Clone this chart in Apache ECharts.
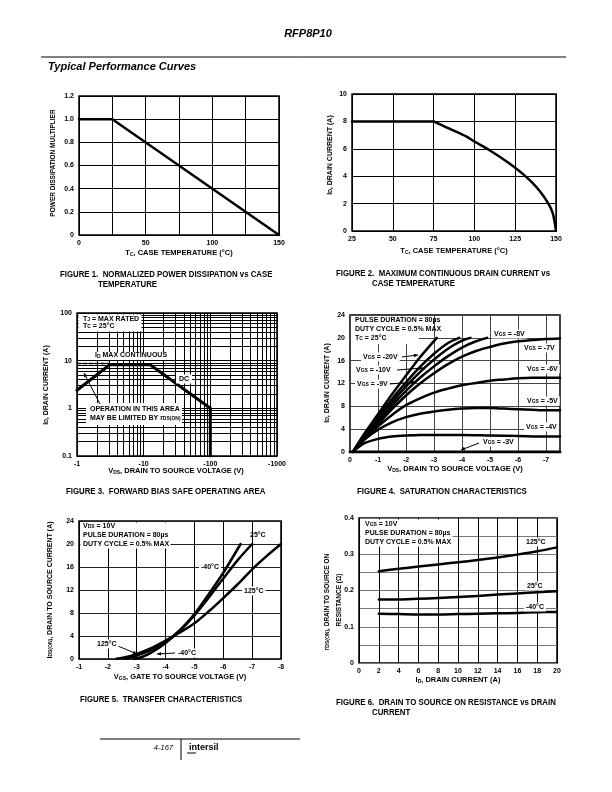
<!DOCTYPE html>
<html><head><meta charset="utf-8">
<script src="https://cdn.jsdelivr.net/npm/echarts@6/dist/echarts.min.js"></script>
<style>html,body{margin:0;padding:0;background:#fff}#c{width:612px;height:792px}</style>
</head><body><div id="c"></div>
<script>
// ---------------- DATA ----------------
// Figure 1: normalized power dissipation vs case temperature
const fig1Temp = [0, 25, 150];
const fig1Mult = [1.0, 1.0, 0.0];
// Figure 2: max continuous drain current vs case temperature
const fig2FlatTemp = [25, 75];
const fig2FlatId   = [8, 8];
const fig2Temp = [75, 80, 85, 95, 100, 110, 120, 125, 130, 135, 140, 145, 148, 150];
const fig2Id   = [8, 7.73, 7.45, 6.9, 6.53, 5.84, 5.06, 4.62, 4.13, 3.58, 2.92, 2.07, 1.3, 0];
// Figure 3: forward bias safe operating area (|VDS|, ID)
const fig3Vds = [1, 3.1, 12.5, 100, 100];
const fig3Id  = [2.4, 8.2, 8.2, 1.0, 0.1];
const fig3IdMaxVds = [1, 3.1];
const fig3IdMax    = [8.7, 8.7];
// Figure 4: saturation characteristics (|VDS| in V, ID in A)
const fig4V20 = [0.1, 0.5, 1, 1.5, 2, 2.5, 3.1];
const fig4I20 = [0, 3.1, 6.6, 10.1, 13.4, 16.6, 20];
const fig4V10 = [0.1, 0.5, 1, 1.5, 2, 2.5, 3, 3.5, 3.9];
const fig4I10 = [0, 2.9, 6.1, 9.3, 12.2, 14.9, 17.2, 19.1, 20];
const fig4V9  = [0.1, 0.5, 1, 1.5, 2, 2.5, 3, 3.5, 4, 4.3];
const fig4I9  = [0, 2.7, 5.7, 8.7, 11.5, 14, 16.2, 18.1, 19.5, 20];
const fig4V8  = [0.1, 0.5, 1, 1.5, 2, 2.5, 3, 3.5, 4, 4.5, 4.9];
const fig4I8  = [0, 2.5, 5.3, 8.1, 10.7, 13, 15, 16.8, 18.3, 19.4, 20];
const fig4VLong = [0.1, 0.5, 1, 1.5, 2, 2.5, 3, 3.5, 4, 4.5, 5, 5.5, 6, 6.5, 7, 7.5];
const fig4I7  = [0, 2.3, 4.9, 7.5, 9.9, 12, 13.8, 15.4, 16.7, 17.7, 18.4, 19, 19.4, 19.6, 19.8, 19.9];
const fig4I6  = [0, 2.3, 4.5, 6.5, 8.2, 9.4, 10.4, 11.1, 11.7, 12.1, 12.5, 12.7, 12.9, 13, 13, 13];
const fig4I5  = [0, 2.1, 3.9, 5.2, 6.1, 6.7, 7.1, 7.4, 7.6, 7.7, 7.7, 7.6, 7.5, 7.4, 7.3, 7.3];
const fig4V4  = [0.1, 0.5, 1, 1.5, 2, 2.5, 3, 4, 5, 6, 7, 7.5];
const fig4I4  = [0, 1.5, 2.3, 2.7, 2.9, 3, 3, 3, 2.9, 2.8, 2.7, 2.7];
const fig4V3  = [0, 7.5];
const fig4I3  = [0, 0];
// Figure 5: transfer characteristics (|VGS| in V, IDS(ON) in A)
const fig5V125 = [2.3, 2.6, 3, 3.5, 4, 4.5, 5, 5.5, 6, 6.5, 7, 7.5, 8];
const fig5I125 = [0.05, 0.3, 0.9, 1.9, 3.2, 4.6, 6.2, 8.3, 10.6, 13, 15.6, 17.9, 20];
const fig5V25  = [2.6, 3, 3.5, 4, 4.5, 5, 5.5, 6, 6.5, 7];
const fig5I25  = [0.05, 0.6, 1.6, 3.0, 5.0, 7.6, 10.7, 14, 17.2, 20];
const fig5Vm40 = [2.9, 3.2, 3.5, 4, 4.5, 5, 5.5, 6, 6.6];
const fig5Im40 = [0.05, 0.4, 1.1, 2.8, 5.0, 7.8, 11.3, 15.0, 20];
// Figure 6: rDS(ON) vs drain current
const fig6Id   = [2, 4, 6, 8, 10, 12, 14, 16, 18, 20];
const fig6R125 = [0.253, 0.26, 0.266, 0.272, 0.278, 0.284, 0.291, 0.299, 0.308, 0.319];
const fig6R25  = [0.175, 0.175, 0.177, 0.179, 0.182, 0.185, 0.189, 0.192, 0.195, 0.198];
const fig6Rm40 = [0.136, 0.135, 0.134, 0.134, 0.135, 0.136, 0.137, 0.138, 0.140, 0.141];
// log-grid multipliers for Figure 3
const logMinor = [2, 3, 4, 5, 6, 7, 8, 9];

// ---------------- CHART ----------------
const FF = '"Liberation Sans", Arial, sans-serif';
const chart = echarts.init(document.getElementById('c'), null, {renderer: 'canvas'});
const pair = (xs, ys) => xs.map((x, i) => [x, ys[i]]);
const RICH = {
  s: {fontSize: 5, fontWeight: 'bold', fontFamily: FF, verticalAlign: 'bottom', lineHeight: 5, fill: '#000'}
};
function T(x, y, text, o) {
  o = o || {};
  return {
    type: 'text', x: x, y: y, z: 100, rotation: o.rot || 0, scaleX: o.sx || 1,
    style: Object.assign({
      text: text, fontFamily: FF, fontSize: o.size || 7, fontWeight: o.weight || 'bold',
      fontStyle: o.italic ? 'italic' : 'normal', fill: '#000',
      align: o.align || 'left', verticalAlign: 'middle', rich: RICH
    }, o.style || {})
  };
}
function R(x, y, w, h) {
  return {type: 'rect', z: 90, shape: {x: x, y: y, width: w, height: h}, style: {fill: '#fff'}};
}
function L(x1, y1, x2, y2, w) {
  return {type: 'line', z: 95, shape: {x1: x1, y1: y1, x2: x2, y2: y2}, style: {stroke: '#000', lineWidth: w || 1}};
}
function ARROW(x1, y1, x2, y2) {
  const a = Math.atan2(y2 - y1, x2 - x1), s = 4, w = 1.8;
  const p1 = [x2 - s * Math.cos(a) + w * Math.sin(a), y2 - s * Math.sin(a) - w * Math.cos(a)];
  const p2 = [x2 - s * Math.cos(a) - w * Math.sin(a), y2 - s * Math.sin(a) + w * Math.cos(a)];
  return [L(x1, y1, x2, y2, 1),
    {type: 'polygon', z: 96, shape: {points: [[x2, y2], p1, p2]}, style: {fill: '#000'}}];
}

const grids = [
  {left: 79, top: 96, width: 200, height: 139},
  {left: 352, top: 94, width: 204, height: 137},
  {left: 77, top: 313, width: 200, height: 143},
  {left: 350, top: 315, width: 210, height: 137},
  {left: 79, top: 521, width: 202, height: 138},
  {left: 359, top: 518, width: 198, height: 145}
].map(g => Object.assign({show: true, borderColor: '#000', borderWidth: 1.5, backgroundColor: '#fff'}, g));

const lab = (extra) => Object.assign({fontSize: 7, fontWeight: 'bold', fontFamily: FF, color: '#000', margin: 5}, extra || {});
const split = (c, w) => ({show: true, lineStyle: {color: c || '#000', width: w || 1}});
const base = (extra) => Object.assign({axisLine: {show: false}, axisTick: {show: false}, splitLine: split()}, extra);

const xAxis = [
  base({gridIndex: 0, type: 'value', min: 0, max: 150, interval: 25,
    axisLabel: lab({formatter: v => (v % 50 === 0 ? String(v) : '')})}),
  base({gridIndex: 1, type: 'value', min: 25, max: 150, interval: 25, axisLabel: lab()}),
  base({gridIndex: 2, type: 'log', logBase: 10, min: 1, max: 1000,
    axisLabel: lab({formatter: v => '-' + v})}),
  base({gridIndex: 3, type: 'value', min: 0, max: 7.5, interval: 1, splitLine: split('#444'),
    axisLabel: lab({formatter: v => (v === 0 ? '0' : '-' + v), showMaxLabel: false})}),
  base({gridIndex: 4, type: 'value', min: 1, max: 8, interval: 1,
    axisLabel: lab({formatter: v => '-' + v})}),
  base({gridIndex: 5, type: 'value', min: 0, max: 20, interval: 2, axisLabel: lab()})
];
const yAxis = [
  base({gridIndex: 0, type: 'value', min: 0, max: 1.2, interval: 0.2,
    axisLabel: lab({formatter: v => (v === 0 ? '0' : v.toFixed(1))})}),
  base({gridIndex: 1, type: 'value', min: 0, max: 10, interval: 2, axisLabel: lab()}),
  base({gridIndex: 2, type: 'log', logBase: 10, min: 0.1, max: 100, axisLabel: lab()}),
  base({gridIndex: 3, type: 'value', min: 0, max: 24, interval: 4, splitLine: split('#444'), axisLabel: lab()}),
  base({gridIndex: 4, type: 'value', min: 0, max: 24, interval: 4, splitLine: split('#222'), axisLabel: lab()}),
  base({gridIndex: 5, type: 'value', min: 0, max: 0.4, interval: 0.05, splitLine: split('#777'),
    axisLabel: lab({formatter: v => {
      const k = Math.round(v * 100);
      return k % 10 === 0 ? (k === 0 ? '0' : (k / 100).toFixed(1)) : '';
    }})})
];

function line(i, xs, ys, w, smooth) {
  return {type: 'line', xAxisIndex: i, yAxisIndex: i, data: pair(xs, ys), showSymbol: false,
    symbol: 'none', smooth: smooth ? 0.3 : false, silent: true, z: 5,
    lineStyle: {color: '#000', width: w || 2.5, cap: 'round', join: 'round'}};
}

// minor log grid lines for Figure 3 (values through the axes)
const xMinor = [], yMinor = [];
[1, 10, 100].forEach(d => logMinor.forEach(m => xMinor.push({xAxis: d * m})));
[0.1, 1, 10].forEach(d => logMinor.forEach(m => yMinor.push({yAxis: +(d * m).toPrecision(2)})));

const series = [
  line(0, fig1Temp, fig1Mult, 2.5, false),
  line(1, fig2FlatTemp, fig2FlatId, 2.5, false),
  line(1, fig2Temp, fig2Id, 2.5, true),
  {type: 'line', xAxisIndex: 2, yAxisIndex: 2, data: [], silent: true, z: 1,
    markLine: {silent: true, symbol: 'none', animation: false, label: {show: false},
      lineStyle: {color: '#000', width: 1, type: 'solid'}, data: xMinor.concat(yMinor)}},
  line(2, fig3Vds, fig3Id, 3, false),
  Object.assign(line(2, fig3IdMaxVds, fig3IdMax, 1.5, false), {lineStyle: {color: '#000', width: 1.5, type: [4, 2]}}),
  line(3, fig4V20, fig4I20, 2.5, true),
  line(3, fig4V10, fig4I10, 2.5, true),
  line(3, fig4V9, fig4I9, 2.5, true),
  line(3, fig4V8, fig4I8, 2.5, true),
  line(3, fig4VLong, fig4I7, 2.5, true),
  line(3, fig4VLong, fig4I6, 2.5, true),
  line(3, fig4VLong, fig4I5, 2.5, true),
  line(3, fig4V4, fig4I4, 2.5, true),
  line(3, fig4V3, fig4I3, 3, false),
  line(4, fig5V125, fig5I125, 2.5, true),
  line(4, fig5V25, fig5I25, 2.5, true),
  line(4, fig5Vm40, fig5Im40, 2.5, true),
  line(5, fig6Id, fig6R125, 2.5, true),
  line(5, fig6Id, fig6R25, 2.5, true),
  line(5, fig6Id, fig6Rm40, 2.5, true)
];

const CAP = {size: 9, sx: 0.87};
const AX = {size: 7.5, align: 'center'};
let g = [];
// header & footer
g.push(T(308, 34, 'RFP8P10', {size: 11, italic: true, align: 'center'}));
g.push(L(41, 57, 566, 57, 1));
g.push(T(48, 67, 'Typical Performance Curves', {size: 11, italic: true}));
g.push(L(100, 739, 300, 739, 1));
g.push(L(181, 739, 181, 760, 1));
g.push(T(173, 748, '4-167', {size: 7.5, weight: 'normal', italic: true, align: 'right'}));
g.push(T(189, 748, 'intersil', {size: 9, weight: 'bold'}));
g.push(L(187, 753, 196, 753, 1));

// Figure 1
g.push(T(53, 163, 'POWER DISSIPATION MULTIPLIER', {size: 6.5, rot: Math.PI / 2, align: 'center'}));
g.push(T(179, 253, 'T{s|C}, CASE TEMPERATURE (°C)', AX));
g.push(T(60, 275, 'FIGURE 1.  NORMALIZED POWER DISSIPATION vs CASE', CAP));
g.push(T(98, 285, 'TEMPERATURE', CAP));
// Figure 2
g.push(T(330, 155, 'I{s|D}, DRAIN CURRENT (A)', {size: 7, rot: Math.PI / 2, align: 'center'}));
g.push(T(454, 251, 'T{s|C}, CASE TEMPERATURE (°C)', AX));
g.push(T(336, 274, 'FIGURE 2.  MAXIMUM CONTINUOUS DRAIN CURRENT vs', CAP));
g.push(T(372, 284, 'CASE TEMPERATURE', CAP));
// Figure 3
g.push(R(78.5, 314.5, 63, 17));
g.push(T(83, 319, 'T{s|J} = MAX RATED', {size: 7}));
g.push(T(83, 326, 'T{s|C} = 25°C', {size: 7}));
g.push(T(93, 356, 'I{s|D} MAX CONTINUOUS', {size: 7, style: {backgroundColor: '#fff', padding: [0, 2, 1, 2]}}));
g.push(T(176, 379, 'DC', {size: 7, style: {backgroundColor: '#fff', padding: [1, 3, 1, 3]}}));
g.push(R(86, 403, 96, 22));
g.push(T(90, 409, 'OPERATION IN THIS AREA', {size: 7}));
g.push(T(90, 418, 'MAY BE LIMITED BY r{s|DS(ON)}', {size: 7}));
g = g.concat(ARROW(100, 404, 84, 373));
g.push(T(46, 385, 'I{s|D}, DRAIN CURRENT (A)', {size: 7, rot: Math.PI / 2, align: 'center'}));
g.push(T(176, 471, 'V{s|DS}, DRAIN TO SOURCE VOLTAGE (V)', AX));
g.push(T(66, 492, 'FIGURE 3.  FORWARD BIAS SAFE OPERATING AREA', CAP));
// Figure 4
g.push(R(351, 316, 68, 28));
g.push(T(355, 320, 'PULSE DURATION = 80µs', {size: 7}));
g.push(T(355, 329, 'DUTY CYCLE = 0.5% MAX', {size: 7}));
g.push(T(355, 338, 'T{s|C} = 25°C', {size: 7}));
const boxed = {backgroundColor: '#fff', padding: [1, 2, 1, 2]};
g.push(T(492, 334, 'V{s|GS} = -8V', {size: 7, style: boxed}));
g.push(T(522, 348, 'V{s|GS} = -7V', {size: 7, style: boxed}));
g.push(T(525, 369, 'V{s|GS} = -6V', {size: 7, style: boxed}));
g.push(T(525, 401, 'V{s|GS} = -5V', {size: 7, style: boxed}));
g.push(T(524, 427, 'V{s|GS} = -4V', {size: 7, style: boxed}));
g.push(T(481, 442, 'V{s|GS} = -3V', {size: 7, style: boxed}));
g.push(T(361, 357, 'V{s|GS} = -20V', {size: 7, style: boxed}));
g.push(T(354, 370, 'V{s|GS} = -10V', {size: 7, style: boxed}));
g.push(T(355, 384, 'V{s|GS} = -9V', {size: 7, style: boxed}));
g = g.concat(ARROW(402, 357, 418, 355));
g = g.concat(ARROW(397, 370, 423, 368));
g = g.concat(ARROW(389, 384, 416, 382));
g = g.concat(ARROW(479, 443, 461, 450));
g.push(T(327, 383, 'I{s|D}, DRAIN CURRENT (A)', {size: 7, rot: Math.PI / 2, align: 'center'}));
g.push(T(455, 469, 'V{s|DS}, DRAIN TO SOURCE VOLTAGE (V)', AX));
g.push(T(357, 492, 'FIGURE 4.  SATURATION CHARACTERISTICS', CAP));
// Figure 5
g.push(R(80.5, 522.5, 90, 26));
g.push(T(83, 526, 'V{s|DS} = 10V', {size: 7}));
g.push(T(83, 535, 'PULSE DURATION = 80µs', {size: 7}));
g.push(T(83, 544, 'DUTY CYCLE = 0.5% MAX', {size: 7}));
g.push(T(250, 535, '25°C', {size: 7}));
g.push(T(199, 567, '-40°C', {size: 7, style: boxed}));
g.push(T(242, 591, '125°C', {size: 7, style: boxed}));
g.push(T(95, 644, '125°C', {size: 7, style: boxed}));
g = g.concat(ARROW(118, 646, 137, 654));
g.push(T(176, 653, '-40°C', {size: 7, style: boxed}));
g = g.concat(ARROW(175, 653, 157, 654));
g.push(T(50, 590, 'I{s|DS(ON)}, DRAIN TO SOURCE CURRENT (A)', {size: 7, rot: Math.PI / 2, align: 'center'}));
g.push(T(180, 677, 'V{s|GS}, GATE TO SOURCE VOLTAGE (V)', AX));
g.push(T(80, 700, 'FIGURE 5.  TRANSFER CHARACTERISTICS', CAP));
// Figure 6
g.push(R(360.5, 519.5, 92, 27));
g.push(T(365, 524, 'V{s|GS} = 10V', {size: 7}));
g.push(T(365, 533, 'PULSE DURATION = 80µs', {size: 7}));
g.push(T(365, 542, 'DUTY CYCLE = 0.5% MAX', {size: 7}));
g.push(T(524, 542, '125°C', {size: 7, style: boxed}));
g.push(T(525, 586, '25°C', {size: 7, style: boxed}));
g.push(T(524, 607, '-40°C', {size: 7, style: boxed}));
g.push(T(327, 602, 'r{s|DS(ON)}, DRAIN TO SOURCE ON', {size: 6.5, rot: Math.PI / 2, align: 'center'}));
g.push(T(339, 600, 'RESISTANCE (Ω)', {size: 6.5, rot: Math.PI / 2, align: 'center'}));
g.push(T(458, 680, 'I{s|D}, DRAIN CURRENT (A)', AX));
g.push(T(336, 703, 'FIGURE 6.  DRAIN TO SOURCE ON RESISTANCE vs DRAIN', CAP));
g.push(T(372, 713, 'CURRENT', CAP));

chart.setOption({
  animation: false,
  backgroundColor: '#fff',
  grid: grids, xAxis: xAxis, yAxis: yAxis, series: series,
  graphic: {elements: g}
});
</script></body></html>
